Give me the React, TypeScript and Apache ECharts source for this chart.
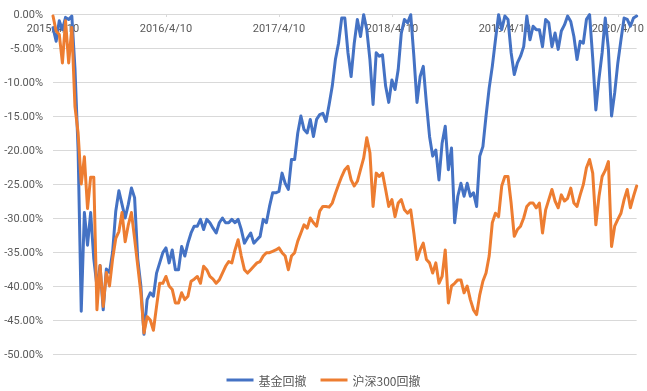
import React, { useEffect, useRef } from 'react';
import * as echarts from 'echarts';

const TICK_LABELS = ['2015/4/10', '2016/4/10', '2017/4/10', '2018/4/10', '2019/4/10', '2020/4/10'];
const POINTS_PER_TICK = 36;
const SERIES_NAMES = ['基金回撤', '沪深300回撤'];

const FUND_DRAWDOWN = [
  -2.0, -4.0, -1.0, -2.3, -0.5, -0.8, -0.3, -8.0, -20.0, -43.7,
  -29.2, -34.0, -29.2, -36.0, -40.0, -37.0, -43.5, -37.5, -38.0, -35.0,
  -29.0, -26.0, -28.0, -30.0, -28.0, -25.6, -27.0, -36.0, -40.0, -47.1,
  -42.0, -41.0, -41.5, -38.1, -36.6, -35.1, -34.4, -36.6, -34.7, -37.6,
  -37.6, -34.2, -35.6, -33.7, -32.2, -31.2, -31.2, -30.2, -31.7, -30.2,
  -30.7, -31.5, -32.2, -30.7, -30.0, -30.7, -30.7, -30.2, -30.7, -30.2,
  -31.7, -33.7, -32.9, -32.2, -33.7, -33.2, -32.7, -30.2, -30.7, -28.3,
  -26.3, -26.3, -26.1, -23.4, -24.9, -25.8, -21.4, -21.4, -17.5, -15.0,
  -17.0, -17.5, -15.5, -18.0, -15.5, -14.8, -14.6, -15.8, -13.3, -10.6,
  -6.7, -4.3, -0.6, -0.6, -5.7, -9.2, -4.3, -0.8, -3.3, -0.1,
  -2.3, -6.7, -13.3, -5.7, -6.2, -6.0, -10.6, -13.0, -9.7, -11.1,
  -8.2, -2.8, -0.8, -1.3, -0.1, -6.2, -13.0, -9.2, -7.7, -13.1,
  -18.0, -20.9, -20.0, -24.4, -19.0, -16.5, -22.9, -19.7, -30.7, -26.8,
  -24.9, -26.8, -24.9, -26.8, -26.3, -28.3, -20.9, -19.5, -15.0, -10.9,
  -7.7, -3.8, -0.1, -2.3, -0.3, -0.8, -5.7, -8.9, -7.2, -6.2,
  -4.8, -0.3, -3.8, -1.8, -2.3, -2.3, -4.8, -0.8, -1.3, -4.8,
  -2.8, -5.2, -2.5, -1.6, -0.3, -1.1, -3.3, -6.7, -4.0, -4.3,
  -0.8, -0.1, -6.5, -14.1, -9.5, -5.7, -0.6, -5.2, -15.0, -11.6,
  -7.2, -3.8, -0.6, -0.8, -1.8, -0.6, -0.3,
];

const CSI300_DRAWDOWN = [
  -0.3, -2.5, -3.0, -7.2, -1.0, -7.2, -2.0, -13.6, -17.5, -25.0,
  -21.0, -28.6, -24.0, -24.0, -43.5, -37.0, -43.0, -38.0, -40.0, -36.0,
  -33.0, -32.0, -29.2, -33.5, -31.0, -29.2, -33.0, -37.0, -41.0, -46.9,
  -44.5, -45.0, -46.5, -43.0, -39.6, -39.6, -38.6, -40.0, -40.5, -42.5,
  -42.5, -41.0, -42.0, -41.5, -39.3, -39.0, -38.6, -39.6, -37.1, -37.6,
  -38.6, -39.0, -39.6, -39.1, -38.1, -37.1, -36.4, -36.6, -34.7, -33.2,
  -35.6, -37.6, -38.1, -37.6, -37.1, -36.6, -36.4, -35.6, -35.1, -35.1,
  -34.9, -34.7, -34.4, -35.1, -35.6, -37.6, -35.6, -35.1, -33.4, -32.2,
  -31.0, -31.5, -30.0, -30.7, -31.2, -29.0, -28.3, -28.3, -28.4, -27.8,
  -26.4, -25.1, -23.9, -22.9, -22.4, -24.4, -25.3, -24.6, -22.9, -21.2,
  -18.2, -20.4, -28.3, -23.4, -23.9, -23.4, -25.8, -28.3, -27.3, -29.8,
  -27.8, -27.3, -28.8, -29.3, -28.8, -32.2, -36.1, -34.7, -33.7, -36.1,
  -36.6, -38.1, -36.6, -39.6, -38.6, -34.7, -42.5, -40.0, -39.6, -39.1,
  -39.1, -41.0, -40.0, -42.0, -43.5, -44.2, -41.3, -39.3, -38.1, -35.6,
  -30.7, -29.3, -29.8, -25.3, -23.9, -23.9, -27.8, -32.7, -31.7, -31.2,
  -30.0, -28.3, -27.8, -27.8, -28.5, -27.8, -32.2, -28.8, -27.3, -25.8,
  -27.5, -28.5, -26.6, -27.5, -27.1, -25.6, -27.8, -28.3, -26.6, -25.1,
  -22.6, -21.4, -23.4, -31.0, -26.8, -23.9, -23.0, -21.7, -34.2, -31.2,
  -30.2, -29.3, -27.3, -25.8, -28.5, -26.8, -25.3,
];

const Y_MIN = -50;
const Y_MAX = 0;
const Y_STEP = 5;

const LABEL_COLOR = '#595959';
const GRID_COLOR = '#d9d9d9';
const COLORS = ['#4472C4', '#ED7D31'];

export default function App() {
  const ref = useRef<HTMLDivElement>(null);

  useEffect(() => {
    if (!ref.current) return;
    const chart = echarts.init(ref.current, null, { renderer: 'svg' });
    const categories = FUND_DRAWDOWN.map((_, i) => String(i));
    chart.setOption({
      animation: false,
      grid: { left: 53, right: 10, top: 14, bottom: 37, containLabel: false },
      legend: {
        data: SERIES_NAMES,
        top: 374,
        left: 'center',
        padding: 0,
        icon: 'rect',
        itemWidth: 27,
        itemHeight: 3,
        itemGap: 14,
        textStyle: { color: LABEL_COLOR, fontSize: 12, fontFamily: 'Noto Sans CJK SC' },
      },
      xAxis: {
        type: 'category',
        position: 'top',
        data: categories,
        boundaryGap: false,
        axisLine: { lineStyle: { color: GRID_COLOR, width: 1 } },
        axisTick: { show: true, inside: true, interval: POINTS_PER_TICK - 1, length: 3, lineStyle: { color: GRID_COLOR } },
        axisLabel: {
          inside: true,
          interval: POINTS_PER_TICK - 1,
          formatter: (_v: string, i: number) => TICK_LABELS[i / POINTS_PER_TICK] ?? '',
          color: LABEL_COLOR,
          fontFamily: 'Roboto',
          fontSize: 11,
          margin: 9,
        },
        splitLine: { show: false },
      },
      yAxis: {
        type: 'value',
        min: Y_MIN,
        max: Y_MAX,
        interval: Y_STEP,
        axisLine: { show: false },
        axisTick: { show: false },
        splitLine: { lineStyle: { color: GRID_COLOR, width: 1 } },
        axisLabel: {
          formatter: (v: number) => `${v.toFixed(2)}%`,
          color: LABEL_COLOR,
          fontFamily: 'Roboto',
          fontSize: 11,
          margin: 10,
        },
      },
      series: [
        {
          name: SERIES_NAMES[0],
          type: 'line',
          data: FUND_DRAWDOWN,
          symbol: 'none',
          lineStyle: { color: COLORS[0], width: 3, join: 'round', cap: 'round' },
          itemStyle: { color: COLORS[0] },
        },
        {
          name: SERIES_NAMES[1],
          type: 'line',
          data: CSI300_DRAWDOWN,
          symbol: 'none',
          lineStyle: { color: COLORS[1], width: 3, join: 'round', cap: 'round' },
          itemStyle: { color: COLORS[1] },
        },
      ],
    });
    return () => chart.dispose();
  }, []);

  return <div ref={ref} style={{ position: 'fixed', left: 0, top: 0, width: 647, height: 391 }} />;
}
